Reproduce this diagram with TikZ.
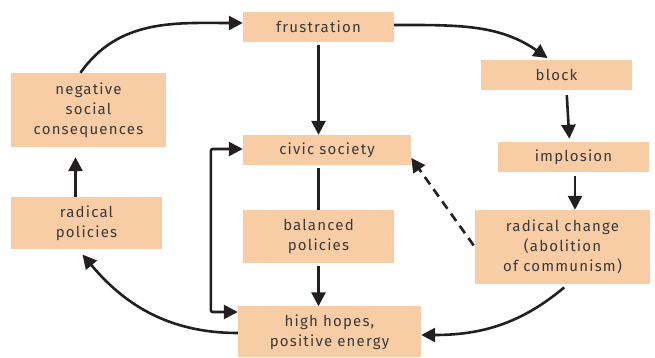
\documentclass[tikz,border=0pt]{standalone}
\usepackage{fontspec}
\setmainfont[LetterSpace=8]{Fira Sans}
\usepackage{tikz}
\usetikzlibrary{arrows,arrows.meta,positioning}

\definecolor{peach}{HTML}{F8CDA6}
\definecolor{ink}{HTML}{231F20}
\definecolor{txt}{HTML}{3A3A3A}

\begin{document}
\begin{tikzpicture}[x=1pt,y=1pt,on grid,>={Triangle[length=14pt,width=14pt]},
  box/.style={fill=peach,text=txt,align=center,inner sep=0pt,
    font=\fontsize{15}{20}\selectfont}]
  \useasboundingbox (0,0) rectangle (655,358);
  \node[box,minimum width=151pt,minimum height=30pt] (frust) at (318.5,331) {frustration};
  \node[box,minimum width=151pt,minimum height=30pt] (block) [below right=48pt and 238pt of frust] {block};
  \node[box,minimum width=151pt,minimum height=30pt] (implo) [below right=82pt and 17pt of block] {implosion};
  \node[box,minimum width=175pt,minimum height=74pt] (change) [below left=90pt and 11pt of implo] {radical change\\(abolition\\of communism)};
  \node[box,minimum width=168pt,minimum height=30pt] (civic) [below right=123pt and 8.5pt of frust] {civic society};
  \node[box,minimum width=151pt,minimum height=53pt] (balanced) [below=209.5pt of frust] {balanced\\policies};
  \node[box,minimum width=183pt,minimum height=51pt] (hopes) [below right=95.5pt and 11pt of balanced] {high hopes,\\positive energy};
  \node[box,minimum width=155pt,minimum height=74pt] (neg) [below left=83pt and 230pt of frust] {negative\\social\\consequences};
  \node[box,minimum width=151pt,minimum height=52pt] (radpol) [below left=113pt and 2pt of neg] {radical\\policies};
  % arrows round the outer loop
  \path[->,ink,line width=2.6pt]
    ([xshift=-8pt]neg.north) edge [out=55,in=180] ([yshift=4pt]frust.west)
    ([yshift=2pt]frust.east) edge [out=0,in=145,shorten >=3pt] ([xshift=-6.5pt]block.north)
    ([xshift=10pt]block.south) edge [shorten <=5pt,shorten >=3pt] ([xshift=-4pt]implo.north)
    ([xshift=1.5pt]implo.south) edge [shorten <=4pt] ([xshift=1.5pt]implo.south |- change.north)
    ([xshift=5.5pt]change.south) edge [out=-140,in=0,shorten <=5pt] ([yshift=-3pt]hopes.east)
    ([yshift=-1pt]hopes.west) edge [out=180,in=-50,shorten >=7pt] ([xshift=-8.5pt]radpol.south)
    ([xshift=-11pt]radpol.north) edge [shorten >=10pt] ([xshift=-11pt]radpol.north |- neg.south);
  % arrows through the middle
  \path[->,ink,line width=2.6pt]
    (frust.south) edge [shorten <=3pt] (frust.south |- civic.north)
    (balanced.south) edge [shorten <=3pt] (hopes.north -| balanced.south);
  \draw[ink,line width=2.6pt,shorten <=3pt] (balanced.north |- civic.south) -- (balanced.north);
  \draw[<->,ink,line width=2.6pt,rounded corners=2pt]
    ([yshift=20pt]hopes.west) -- ++(-27pt,0) |- ([yshift=1pt]civic.west);
  \draw[->,ink,line width=2.6pt,dash pattern=on 9pt off 6pt,shorten <=2pt]
    (change.west) -- ([yshift=-8pt]civic.east);
\end{tikzpicture}
\end{document}
